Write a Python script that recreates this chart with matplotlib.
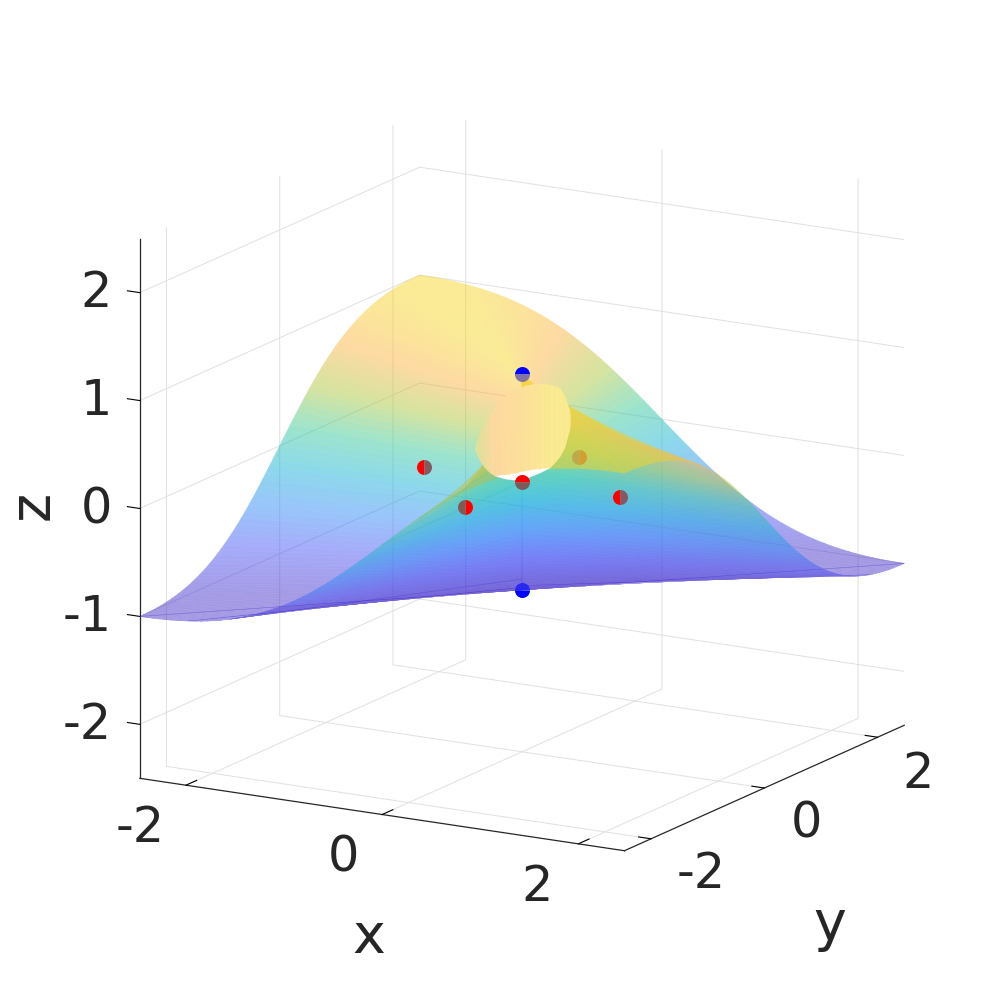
import numpy as np
import matplotlib
matplotlib.use('Agg')
import matplotlib.pyplot as plt
from matplotlib.colors import LinearSegmentedColormap
from mpl_toolkits.mplot3d.art3d import Poly3DCollection

# colours of the map, low to high
parula_colors = [(0.26, 0.17, 0.78), (0.2810, 0.3228, 0.9579), (0.1786, 0.5289, 0.9682),
                 (0.0689, 0.6948, 0.8394), (0.2161, 0.7843, 0.5923), (0.6720, 0.7793, 0.2227),
                 (0.99, 0.70, 0.25), (0.96, 0.84, 0.14)]

# height along one side of the square, from the middle of the side out to its corner
half_side_z = [0.0000, 0.0500, 0.0998, 0.1492, 0.1980, 0.2462, 0.2934, 0.3396, 0.3846, 0.4283,
               0.4706, 0.5113, 0.5505, 0.5879, 0.6236, 0.6575, 0.6897, 0.7200, 0.7484, 0.7751,
               0.8000, 0.8231, 0.8445, 0.8643, 0.8824, 0.8989, 0.9139, 0.9274, 0.9396, 0.9504,
               0.9600, 0.9684, 0.9756, 0.9818, 0.9869, 0.9912, 0.9945, 0.9970, 0.9987, 0.9997, 1.0000]
half_side_t = [i * 0.025 for i in range(41)]
side = 2.47

# rim indices where the sheet is cut, so each part has no overlap with itself
sheet_cuts = [0, 160, 170, 218, 228, 240, 257, 267, 274, 280, 305, 312, 320]

# the pale blob in the middle, read in pixels
blob_px = [475, 480, 485, 490, 495, 500, 505, 510, 515, 520, 525, 530, 535, 540, 545, 550, 555, 560, 565, 570, 571]
blob_top = [447, 432, 423, 415, 408, 402, 397, 393, 390, 388, 386, 385, 384, 384, 384, 385, 386, 388, 396, 410, 420]
blob_bot = [450, 461, 468, 473, 476, 475, 475, 474, 473, 472, 471, 470, 469, 469, 468, 468, 463, 457, 448, 430, 420]
blob_level = [0.48, 0.55, 0.62, 0.68, 0.72, 0.74, 0.76, 0.78, 0.80, 0.82, 0.85, 0.88, 0.90, 0.93, 0.96, 0.98, 0.98, 0.98, 0.98, 0.98]

# the white gap under the blob
gap_px = [495, 505, 513, 522, 530, 540, 550]
gap_top = [474, 473, 472, 470, 468, 467, 468]
gap_bot = [476, 479, 480, 480, 477, 473, 468]

# the marked points
point_x = [-1, 1, 0, 0, 0, 0, 0]
point_y = [0, 0, -1, 1, 0, 0, 0]
point_z = [0, 0, 0, 0, 0, 1, -1]
point_fill = ['left', 'left', 'right', 'left', 'top', 'top', 'bottom']
point_main = ['#ff0000', '#ff0000', '#ff0000', '#bcaa4b', '#ff0000', '#0000ff', '#0000ff']
point_alt = ['#825a5f', '#825a64', '#825a55', '#d2a032', '#7d5a5a', '#8273a5', '#2828f0']

ticks = [-2, 0, 2]
z_ticks = [-2, -1, 0, 1, 2]
x_tick_labels = ['-2', '0', '2']
y_tick_labels = ['-2', '0', '2']
z_tick_labels = ['-2', '-1', '0', '1', '2']
x_label_px = [(140, 842), (343, 871), (537, 901)]
y_label_px = [(701, 888), (806, 837), (918, 788)]
z_label_px = [(112, 739), (112, 631), (112, 523), (112, 415), (112, 307)]

plt.rcParams['font.family'] = 'DejaVu Sans'
plt.rcParams['xtick.major.width'] = 0.8
plt.rcParams['ytick.major.width'] = 0.8

parula = LinearSegmentedColormap.from_list('parula', parula_colors)
alpha = 0.5
dark = '#262626'


def fade(image, dpi):
    # one alpha for a whole sheet, so the facets do not show through each other
    image[:, :, 3] *= 0.70
    return image, 0, 0


# walk round the square edge: left, back, right, front
pos = np.array(half_side_t) * side
zs = np.array(half_side_z)
edge_pos = np.concatenate([-pos[:0:-1], pos])
edge_z = np.concatenate([-zs[:0:-1], zs])
rim_x = np.concatenate([np.full(81, -side), edge_pos[1:], np.full(80, side), edge_pos[::-1][1:]])
rim_y = np.concatenate([edge_pos, np.full(80, side), edge_pos[::-1][1:], np.full(80, -side)])
rim_z = np.concatenate([edge_z, edge_z[::-1][1:], edge_z[1:], edge_z[::-1][1:]])

X = np.vstack([np.zeros_like(rim_x), rim_x])
Y = np.vstack([np.zeros_like(rim_y), rim_y])
Z = np.vstack([rim_z, rim_z])

fig = plt.figure(figsize=(10, 10), dpi=100)
ax = fig.add_axes([0.0085, 0.0045, 1, 1], projection='3d', proj_type='ortho')
ax.computed_zorder = False
ax.view_init(elev=15, azim=-60)
ax.set_box_aspect((1.0357, 1.0357, 1.034), zoom=0.9404)

for a, b in zip(sheet_cuts[:-1], sheet_cuts[1:]):
    z_mid = (rim_z[a:b] + rim_z[a + 1:b + 1]) / 2
    surf = ax.plot_surface(X[:, a:b + 1], Y[:, a:b + 1], Z[:, a:b + 1], rstride=1, cstride=1,
                           facecolors=parula((z_mid + 1) / 2)[None, :, :], shade=False,
                           linewidth=0.4, antialiased=True, zorder=1)
    surf.set_agg_filter(fade)


def to_plane(px, py):
    # pixel position to a point on the plane y = 0
    x = (np.array(px, dtype=float) - 522) / 98.5
    return x, (482 + 14.5 * x - np.array(py, dtype=float)) / 108


def strips(px, top, bot, colors, zorder):
    x, zt = to_plane(px, top)
    _, zb = to_plane(px, bot)
    polys = []
    for i in range(len(px) - 1):
        polys.append([(x[i], 0, zb[i]), (x[i + 1], 0, zb[i + 1]), (x[i + 1], 0, zt[i + 1]), (x[i], 0, zt[i])])
    c = Poly3DCollection(polys, facecolors=colors, edgecolors=colors, linewidths=0.3, zorder=zorder)
    ax.add_collection3d(c, autolim=False)


strips(gap_px, gap_top, gap_bot, ['white'] * (len(gap_px) - 1), 2)
blob_rgb = parula((np.array(blob_level) + 1) / 2)[:, :3] * alpha + (1 - alpha)
strips(blob_px, blob_top, blob_bot, blob_rgb, 3)

for i in range(len(point_x)):
    ax.plot([point_x[i]], [point_y[i]], [point_z[i]], linestyle='none', marker='o', markersize=10.8,
            fillstyle=point_fill[i], markerfacecolor=point_main[i], markerfacecoloralt=point_alt[i],
            markeredgewidth=0, zorder=5)

ax.set_xlim(-side, side, view_margin=0)
ax.set_ylim(-side, side, view_margin=0)
ax.set_zlim(-2.5, 2.5, view_margin=0)

ax.zaxis._axinfo['juggled'] = (1, 2, 0)
out_factor = {0: 0.48, 1: 0.32, 2: 0.32}
for i, axis in enumerate([ax.xaxis, ax.yaxis, ax.zaxis]):
    axis.set_ticks(z_ticks if i == 2 else ticks)
    axis.set_ticklabels([''] * (5 if i == 2 else 3))
    axis.set_pane_color((1, 1, 1, 0))
    axis.pane.set_edgecolor((1, 1, 1, 0))
    axis.line.set_color(dark)
    axis.line.set_linewidth(0.9)
    axis._axinfo['grid'].update(color='#e0e0e0', linewidth=0.7)
    axis._axinfo['tick'].update(inward_factor=0, outward_factor=out_factor[i], color=dark)

for labels, where, align in [(x_tick_labels, x_label_px, 'center'), (y_tick_labels, y_label_px, 'center'),
                             (z_tick_labels, z_label_px, 'right')]:
    for s, (px, py) in zip(labels, where):
        fig.text(px / 1000, 1 - py / 1000, s, fontsize=35.5, color=dark, ha=align, va='baseline')

fig.text(369 / 1000, 1 - 938 / 1000, 'x', fontsize=40, color=dark, ha='center', va='center')
fig.text(830 / 1000, 1 - 925 / 1000, 'y', fontsize=40, color=dark, ha='center', va='center')
fig.text(33 / 1000, 1 - 505 / 1000, 'z', fontsize=40, color=dark, ha='center', va='center', rotation=90)

fig.savefig('out.png', dpi=100)
